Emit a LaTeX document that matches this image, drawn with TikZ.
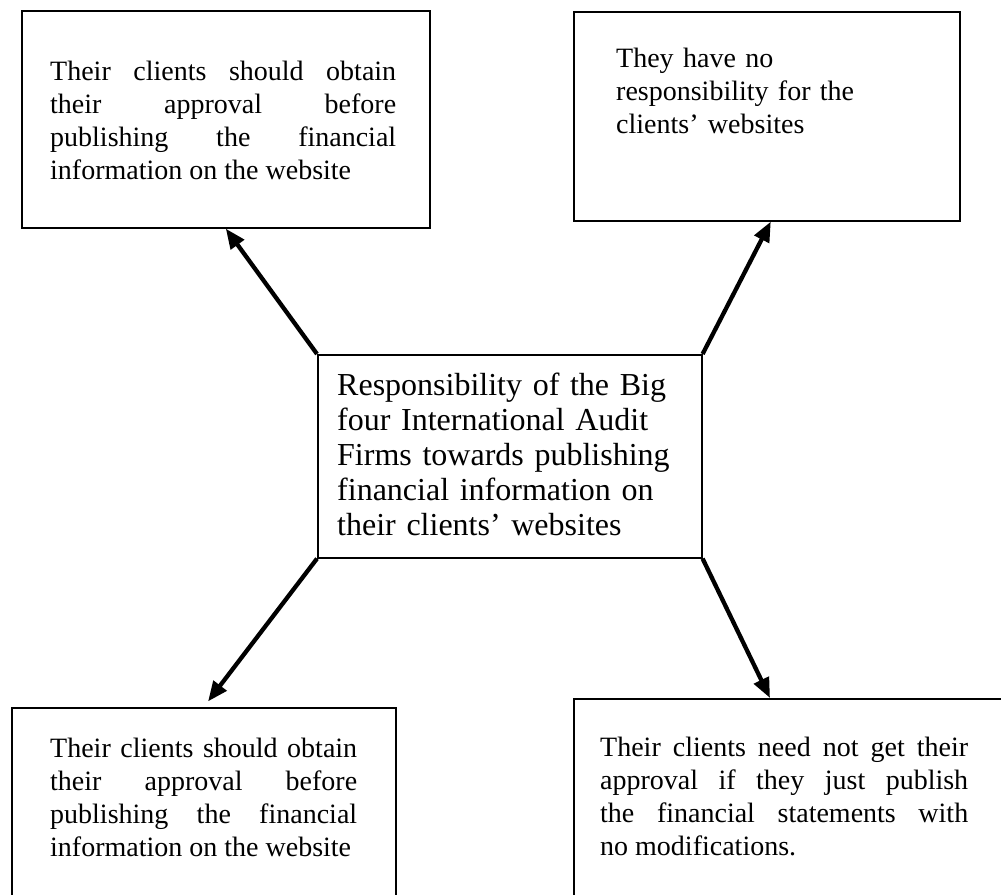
\documentclass[tikz,border=0pt]{standalone}
\usepackage{fontspec}
\setmainfont{Liberation Serif}
\usetikzlibrary{arrows.meta,calc}
\begin{document}
\begin{tikzpicture}[x=1pt,y=-1pt,
  box/.style={draw, line width=1.6pt, inner sep=0pt, anchor=north west},
  outer/.style={anchor=base west, inner sep=0pt, align=justify,
    font=\fontsize{28}{33}\selectfont},
  centre/.style={anchor=base west, inner sep=0pt, align=left,
    font=\fontsize{32}{35}\selectfont},
  link/.style={line width=4.3pt, -{Triangle[length=20pt,width=16pt]}}]
\useasboundingbox (0,0) rectangle (1001,894);
\clip (0,0) rectangle (1001,894);

% boxes
\node[box, minimum width=408pt, minimum height=217pt] (tl) at (21,10) {};
\node[box, minimum width=386pt, minimum height=209pt] (tr) at (573,11) {};
\node[box, minimum width=384pt, minimum height=203pt] (c) at (317,354) {};
\node[box, minimum width=384pt, minimum height=250pt] (bl) at (11,707) {};
\node[box, minimum width=450pt, minimum height=250pt] (br) at (573,698) {};

% texts
\node[outer, text width=346pt] (tltext) at (50,80)
  {Their clients should obtain\linebreak their approval before\linebreak
   publishing the financial\linebreak information on the website};
\node[outer, align=left, text width=320pt] (trtext) at (616,67)
  {They have no\\ responsibility for the\\ clients' websites};
\node[centre, text width=360pt] (ctext) at (337,395)
  {Responsibility of the Big\\ four International Audit\\ Firms towards publishing\\
   financial information on\\ their clients' websites};
\node[outer, text width=307pt] (bltext) at (50,757)
  {Their clients should obtain\linebreak their approval before\linebreak
   publishing the financial\linebreak information on the website};
\node[outer, text width=368pt] (brtext) at (600,756)
  {Their clients need not get their\linebreak approval if they just publish\linebreak
   the financial statements with\linebreak no modifications.};

% connectors
\draw[link] (c.north west) -- (tl.south);
\draw[link] (c.north east) -- ($(tr.south)+(4,0)$);
\draw[link, shorten >=7pt] (c.south west) -- (bl.north);
\draw[link] (c.south east) -- ($(br.north west)+(197,0)$);
\end{tikzpicture}
\end{document}
